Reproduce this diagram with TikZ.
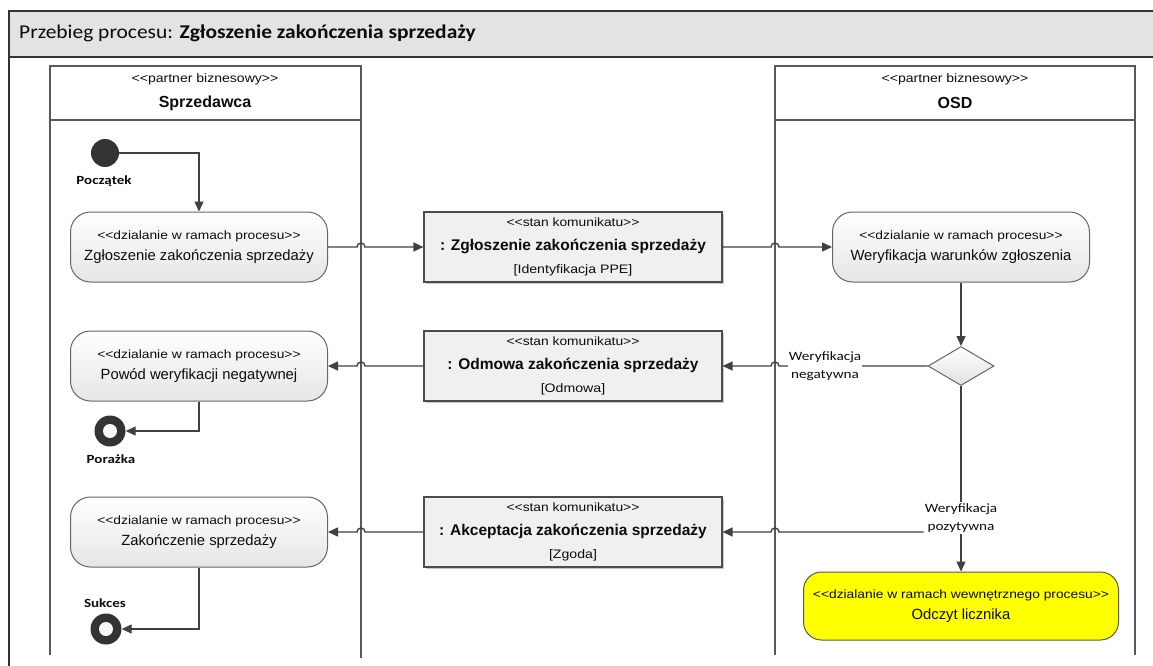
\documentclass[tikz,border=0pt]{standalone}
\usepackage{fontspec}
\setmainfont{Liberation Sans}
\newfontfamily\wide[FakeStretch=1.15]{Liberation Sans}
\newfontfamily\calibw[FakeStretch=1.2]{Carlito}
\newfontfamily\calibt[FakeStretch=1.1]{Carlito}
\usetikzlibrary{arrows.meta,shapes.geometric,shadows,calc}
\newcommand\LLt{<\kern0pt<}
\newcommand\GGt{>\kern0pt>}
\newcommand\stt[1]{{\wide\fontsize{12}{14}\selectfont\LLt#1\GGt}}
\newcommand\nmt[1]{{\fontsize{14.8}{17}\selectfont #1}}
\newcommand\mtt[1]{{\bfseries\fontsize{15.5}{18}\selectfont #1}}
\newcommand\brt[1]{{\wide\fontsize{12.3}{14}\selectfont #1}}
\definecolor{ylw}{RGB}{255,255,0}
\definecolor{ink}{RGB}{12,12,12}
\begin{document}
\begin{tikzpicture}[x=1pt,y=-1pt,
  lane/.style={draw=black!65,line width=1.1pt},
  act/.style={draw=black!60,line width=1pt,rounded corners=20pt,top color=white,bottom color=black!10,
    minimum width=257pt,minimum height=70pt,align=center,inner sep=2pt,text=ink,font=\fontsize{14}{21}\selectfont},
  msg/.style={draw=black!70,line width=1.1pt,fill=black!6,minimum width=298pt,minimum height=70pt,
    align=center,inner sep=2pt,text=ink,font=\fontsize{14}{23.5}\selectfont,
    drop shadow={shadow xshift=1.5pt,shadow yshift=-1.5pt,fill=black!35,opacity=0.6}},
  decis/.style={diamond,draw=black!60,line width=1pt,top color=white,bottom color=black!12,
    minimum width=66pt,minimum height=39pt,inner sep=0pt,aspect=1.7},
  yel/.style={draw=black!65,line width=1pt,rounded corners=18pt,fill=ylw,
    minimum width=315pt,minimum height=68pt,align=center,inner sep=2pt,text=ink,font=\fontsize{14}{21}\selectfont},
  startc/.style={circle,fill=black!80,minimum size=28pt,inner sep=0pt},
  endc/.style={circle,fill=black!80,minimum size=31pt,inner sep=0pt},
  conn/.style={draw=black!75,line width=1.4pt,-{Triangle[length=10pt,width=9pt]}},
  lbl/.style={font=\calibw\fontsize{12.7}{18.5}\selectfont,align=center,inner sep=1pt,text=ink},
  blbl/.style={font=\calibw\bfseries\fontsize{12.5}{15}\selectfont,inner sep=1pt,text=ink}
]
\useasboundingbox (0,0) rectangle (1153,666);
\clip (0,0) rectangle (1153,666);
\fill[white] (0,0) rectangle (1153,666);
% frame and title bar
\fill[black!11] (9,11) rectangle (1170,57);
\draw[black!80,line width=1.3pt] (9,680) -- (9,11) -- (1170,11);
\draw[black!80,line width=1.3pt] (9,57) -- (1170,57);
\node[anchor=west,inner sep=0pt,text=ink] (title) at (19,33)
  {\calibt\fontsize{19.5}{23}\selectfont Przebieg procesu: \textbf{Zgłoszenie zakończenia sprzedaży}};
% swimlanes
\draw[lane] (50,655) -- (50,66) -- (361,66) -- (361,658);
\draw[lane] (50,120) -- (361,120);
\draw[lane] (775,655) -- (775,66) -- (1135,66) -- (1135,655);
\draw[lane] (775,120) -- (1135,120);
\coordinate (L1) at (361,0);
\coordinate (L2) at (775,0);
\node[text=ink] (h1s) at (205,79) {\wide\fontsize{12.2}{14}\selectfont\LLt partner biznesowy\GGt};
\node[text=ink] (h1n) at (205,103) {\bfseries\fontsize{16}{19}\selectfont Sprzedawca};
\node[text=ink] (h2s) at (955,79) {\wide\fontsize{12.2}{14}\selectfont\LLt partner biznesowy\GGt};
\node[text=ink] (h2n) at (955,103) {\bfseries\fontsize{16}{19}\selectfont OSD};
% nodes
\node[startc] (st) at (105,153) {};
\node[blbl] (poc) at (104,181) {Początek};
\node[act] (a1) at (199,247) {\stt{dzialanie w ramach procesu}\\\nmt{Zgłoszenie zakończenia sprzedaży}};
\node[msg] (m1) at (573,247) {\stt{stan komunikatu}\\\mtt{: Zgłoszenie zakończenia sprzedaży}\\\brt{[Identyfikacja PPE]}};
\node[act] (v1) at (961,247) {\stt{dzialanie w ramach procesu}\\\nmt{Weryfikacja warunków zgłoszenia}};
\node[decis] (dec) at (961,366) {};
\node[msg] (m2) at (573,366) {\stt{stan komunikatu}\\\mtt{: Odmowa zakończenia sprzedaży}\\\brt{[Odmowa]}};
\node[act] (a2) at (199,366) {\stt{dzialanie w ramach procesu}\\\nmt{Powód weryfikacji negatywnej}};
\node[endc] (e1) at (110,431) {};
\fill[black!3] (e1) circle (7pt);
\node[blbl] (por) at (111,459) {Porażka};
\node[msg] (m3) at (573,532) {\stt{stan komunikatu}\\\mtt{: Akceptacja zakończenia sprzedaży}\\\brt{[Zgoda]}};
\node[act] (a3) at (199,532) {\stt{dzialanie w ramach procesu}\\\nmt{Zakończenie sprzedaży}};
\node[endc] (e2) at (106,629) {};
\fill[black!3] (e2) circle (7pt);
\node[blbl] (suk) at (105,603) {Sukces};
\node[yel] (y1) at (961,606) {\stt{dzialanie w ramach wewnętrznego procesu}\\\nmt{Odczyt licznika}};
% connectors
\draw[conn] (st) -| (a1);
\draw[conn] (a1) -- ($(a1.east -| L1)+(-4pt,0)$) arc[start angle=180,end angle=0,radius=4pt] -- (m1);
\draw[conn] (m1) -- ($(m1.east -| L2)+(-4pt,0)$) arc[start angle=180,end angle=0,radius=4pt] -- (v1);
\draw[conn] (v1) -- (dec);
\draw[conn] (dec) -- ($(dec.west -| L2)+(4pt,0)$) arc[start angle=0,end angle=180,radius=4pt] -- (m2);
\node[lbl,fill=white] (neg) at (825,366) {Weryfikacja\\negatywna};
\draw[conn] (m2) -- ($(m2.west -| L1)+(4pt,0)$) arc[start angle=0,end angle=180,radius=4pt] -- (a2);
\draw[conn] (a2) |- (e1);
\draw[conn] (dec) -- (y1);
\node[lbl,fill=white] (pos) at (961,518) {Weryfikacja\\pozytywna};
\draw[conn] (pos.west |- m3.east) -- ($(m3.east -| L2)+(4pt,0)$) arc[start angle=0,end angle=180,radius=4pt] -- (m3);
\draw[conn] (m3) -- ($(m3.west -| L1)+(4pt,0)$) arc[start angle=0,end angle=180,radius=4pt] -- (a3);
\draw[conn] (a3) |- (e2);
\end{tikzpicture}
\end{document}
